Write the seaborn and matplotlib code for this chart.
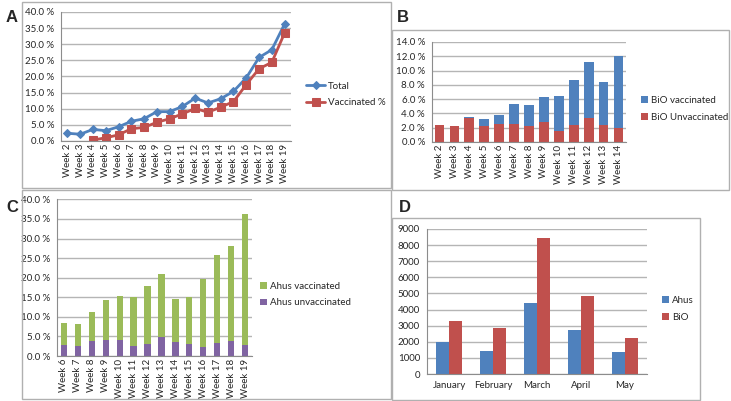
import numpy as np
import pandas as pd
import matplotlib
matplotlib.use('Agg')
import matplotlib.pyplot as plt
from matplotlib.patches import Rectangle
from matplotlib.ticker import FuncFormatter, FixedLocator
import seaborn as sns

# ── data ──────────────────────────────────────
a_weeks = list(range(2, 20))
a_total = [2.4, 2.1, 3.6, 3.2, 4.4, 6.1, 6.9, 9.1, 9.1, 10.7, 13.3, 11.8, 13.1,
           15.4, 19.6, 25.9, 28.3, 36.3]
a_vacc = [np.nan, np.nan, 0.3, 1.0, 1.9, 3.8, 4.2, 5.8, 6.9, 8.4, 10.1, 8.9, 10.5,
          12.2, 17.5, 22.4, 24.4, 33.5]

b_weeks = [f'Week {w}' for w in range(2, 15)]
b_unvacc = [2.33, 2.2, 3.36, 2.2, 2.47, 2.5, 2.2, 2.85, 1.5, 2.38, 3.4, 2.43, 1.9]
b_vacc = [0.0, 0.0, 0.14, 0.97, 1.31, 2.77, 2.93, 3.5, 4.89, 6.35, 7.75, 6.02, 10.1]

c_weeks = [f'Week {w}' for w in range(6, 20)]
c_unvacc = [2.8, 2.56, 3.76, 4.0, 4.0, 2.65, 3.07, 4.78, 3.59, 2.99, 2.3, 3.33, 3.93, 2.82]
c_vacc = [5.74, 5.72, 7.43, 10.18, 11.37, 12.45, 14.93, 16.12, 11.01, 12.01, 17.25,
          22.47, 24.27, 33.38]

d_months = ['January', 'February', 'March', 'April', 'May']
d_ahus = [2000, 1450, 4400, 2750, 1350]
d_bio = [3300, 2850, 8470, 4850, 2220]

BLUE, RED, GREEN, PURPLE = '#4F81BD', '#C0504D', '#9BBB59', '#8064A2'
GRID, AXIS, FRAME = '#b5b5b5', '#8c8c8c', '#b0b0b0'

sns.set_style('white')
plt.rcParams['font.family'] = ['Lato', 'DejaVu Sans']
plt.rcParams['font.size'] = 7

W, H = 731, 401
fig = plt.figure(figsize=(W / 100, H / 100), dpi=100)


def px_axes(l, t, r, b):
    return fig.add_axes([l / W, 1 - b / H, (r - l) / W, (b - t) / H])


def frame(l, t, r, b):
    fig.add_artist(Rectangle((l / W, 1 - b / H), (r - l) / W, (b - t) / H,
                             transform=fig.transFigure, fill=False,
                             edgecolor=FRAME, linewidth=1))


def excel_style(ax, n, pct=True, ymax=40, step=5):
    ax.set_ylim(0, ymax)
    ax.set_yticks(np.arange(0, ymax + step / 2, step))
    if pct:
        ax.yaxis.set_major_formatter(FuncFormatter(lambda v, p: f'{v:.1f} %'))
    ax.set_xlim(-0.5, n - 0.5)
    ax.xaxis.set_minor_locator(FixedLocator(np.arange(-0.5, n, 1)))
    ax.tick_params(axis='x', which='major', length=0, labelsize=7, pad=2)
    ax.tick_params(axis='x', which='minor', length=4, color=AXIS, width=0.8)
    ax.tick_params(axis='y', length=3, color=AXIS, width=0.8, labelsize=7, pad=2)
    ax.grid(True, axis='y', color=GRID, linewidth=1)
    ax.set_axisbelow(True)
    for s in ['top', 'right']:
        ax.spines[s].set_visible(False)
    for s in ['left', 'bottom']:
        ax.spines[s].set_color(AXIS)
        ax.spines[s].set_linewidth(0.8)
    ax.set_xlabel('')
    ax.set_ylabel('')


def legend(ax, x, y, square=True):
    kw = dict(handlelength=0.7, handleheight=0.7) if square else dict(handlelength=2.0)
    ax.legend(loc='center left', bbox_to_anchor=(x / W, 1 - y / H),
              bbox_transform=fig.transFigure, frameon=False, fontsize=7,
              borderpad=0, borderaxespad=0, labelspacing=0.8, handletextpad=0.3, **kw)


# frames
frame(22, 2, 391, 188)
frame(392, 30, 729, 190)
frame(22, 190, 391, 399)
frame(392, 218, 700, 400)

# ── A: line chart ─────────────────────────────
ax = px_axes(61, 12, 291, 141)
pos = np.arange(len(a_weeks))
sns.lineplot(x=pos, y=a_total, ax=ax, color=BLUE, marker='D', markersize=4.5,
             markeredgecolor=BLUE, linewidth=2, label='Total')
sns.lineplot(x=pos, y=a_vacc, ax=ax, color=RED, marker='s', markersize=5.5,
             markeredgecolor=RED, linewidth=2, label='Vaccinated %')
excel_style(ax, len(a_weeks))
ax.set_xticks(pos)
ax.set_xticklabels([f'Week {w}' for w in a_weeks], rotation=90)
legend(ax, 306, 94.5, square=False)

# ── B: stacked bars ───────────────────────────
ax = px_axes(432, 42, 626, 142)
b_total = np.array(b_unvacc) + np.array(b_vacc)
sns.barplot(x=b_weeks, y=b_total, ax=ax, color=BLUE, saturation=1, width=0.65,
            linewidth=0, label='BiO vaccinated')
sns.barplot(x=b_weeks, y=b_unvacc, ax=ax, color=RED, saturation=1, width=0.65,
            linewidth=0, label='BiO Unvaccinated')
excel_style(ax, len(b_weeks), ymax=14, step=2)
ax.tick_params(axis='x', rotation=90)
legend(ax, 641, 109)

# ── C: stacked bars ───────────────────────────
ax = px_axes(57, 199.4, 252, 356)
c_total = np.array(c_unvacc) + np.array(c_vacc)
sns.barplot(x=c_weeks, y=c_total, ax=ax, color=GREEN, saturation=1, width=0.45,
            linewidth=0, label='Ahus vaccinated')
sns.barplot(x=c_weeks, y=c_unvacc, ax=ax, color=PURPLE, saturation=1, width=0.45,
            linewidth=0, label='Ahus unvaccinated')
excel_style(ax, len(c_weeks))
ax.tick_params(axis='x', rotation=90)
legend(ax, 260, 294.5)

# ── D: grouped bars ───────────────────────────
ax = px_axes(427, 229, 647, 374)
df_d = pd.DataFrame({
    'month': d_months * 2,
    'value': d_ahus + d_bio,
    'site': ['Ahus'] * len(d_months) + ['BiO'] * len(d_months),
})
sns.barplot(data=df_d, x='month', y='value', hue='site', ax=ax,
            palette=[BLUE, RED], saturation=1, width=0.57, linewidth=0)
excel_style(ax, len(d_months), pct=False, ymax=9000, step=1000)
ax.tick_params(axis='x', which='major', pad=5)
legend(ax, 662, 309)

# panel letters
for letter, (x, y) in zip('ABCD', [(12, 18), (403, 17), (12, 208), (405, 207)]):
    fig.text(x / W, 1 - y / H, letter, fontsize=12, fontweight='bold',
             family=['Liberation Sans', 'DejaVu Sans'], ha='center', va='center')

fig.savefig('out.png', dpi=100)
